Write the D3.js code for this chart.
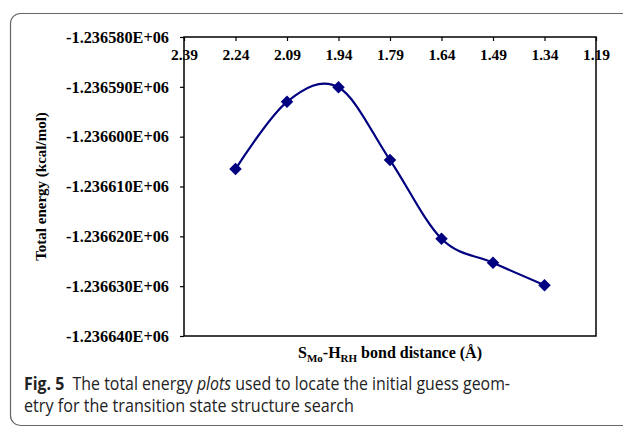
<!DOCTYPE html>
<html>
<head>
<meta charset="utf-8">
<script src="https://cdn.jsdelivr.net/npm/d3@7"></script>
<style>
  body { margin: 0; background: #fff; }
  .tick text { font-family: "Liberation Serif", "Times New Roman", serif; font-weight: bold; }
</style>
</head>
<body>
<div class="chart"></div>
<script>
// data
var bondDist = [2.24, 2.09, 1.94, 1.79, 1.64, 1.49, 1.34];
var energy = [-1236606.5, -1236593.0, -1236590.1, -1236604.7, -1236620.5, -1236625.3, -1236629.8];
var xTicks = [2.39, 2.24, 2.09, 1.94, 1.79, 1.64, 1.49, 1.34, 1.19];
var yTicks = [-1236580, -1236590, -1236600, -1236610, -1236620, -1236630, -1236640];

var svgWidth = 623;
var svgHeight = 430;

var margin = { top: 37, right: 27, bottom: 94, left: 184 };
var width = svgWidth - margin.left - margin.right;
var height = svgHeight - margin.top - margin.bottom;

var svg = d3.select(".chart")
  .append("svg")
  .attr("width", svgWidth)
  .attr("height", svgHeight);

// figure frame
svg.append("rect")
  .attr("x", 10.5)
  .attr("y", 13.5)
  .attr("width", 640)
  .attr("height", 412)
  .attr("rx", 10)
  .attr("fill", "none")
  .attr("stroke", "#666")
  .attr("stroke-width", 1.2);

var chartGroup = svg.append("g")
  .attr("transform", `translate(${margin.left}, ${margin.top})`);

var x = d3.scaleLinear().domain([2.39, 1.19]).range([0, width]);
var y = d3.scaleLinear().domain([-1236580, -1236640]).range([0, height]);

// plot frame
chartGroup.append("rect")
  .attr("width", width)
  .attr("height", height)
  .attr("fill", "none")
  .attr("stroke", "#000")
  .attr("stroke-width", 1.5);

var topAxis = d3.axisTop(x)
  .tickValues(xTicks)
  .tickSize(-4)
  .tickSizeOuter(0)
  .tickFormat(d3.format(".2f"));

var xAxis = chartGroup.append("g").call(topAxis);
xAxis.select(".domain").remove();
xAxis.selectAll("line").attr("stroke", "#000").attr("stroke-width", 1.2);
xAxis.selectAll("text")
  .attr("y", 23)
  .attr("fill", "#000")
  .style("font-size", "15.5px");

var leftAxis = d3.axisLeft(y)
  .tickValues(yTicks)
  .tickSize(4)
  .tickSizeOuter(0)
  .tickFormat(d => d.toFixed(0).replace(/^-(\d)(\d+)$/, "-$1.$2") + "E+06");

var yAxis = chartGroup.append("g").call(leftAxis);
yAxis.select(".domain").remove();
yAxis.selectAll("line").attr("stroke", "#000").attr("stroke-width", 1.2);
yAxis.selectAll("text")
  .attr("x", -15)
  .attr("fill", "#000")
  .style("font-size", "16.3px");

var line = d3.line()
  .x((d, i) => x(bondDist[i]))
  .y(d => y(d))
  .curve(d3.curveCatmullRom.alpha(0));

chartGroup.append("path")
  .datum(energy)
  .attr("d", line)
  .attr("fill", "none")
  .attr("stroke", "#000080")
  .attr("stroke-width", 2.2);

chartGroup.selectAll(".marker")
  .data(energy)
  .enter()
  .append("path")
  .attr("class", "marker")
  .attr("d", d3.symbol().type(d3.symbolDiamond2).size(100))
  .attr("transform", (d, i) => `translate(${x(bondDist[i])}, ${y(d)})`)
  .attr("fill", "#000080");

// axis titles
chartGroup.append("text")
  .attr("transform", "rotate(-90)")
  .attr("x", -height / 2)
  .attr("y", -138)
  .attr("text-anchor", "middle")
  .style("font-family", "'Liberation Serif', serif")
  .style("font-weight", "bold")
  .style("font-size", "15px")
  .text("Total energy (kcal/mol)");

var xTitle = chartGroup.append("text")
  .attr("x", width / 2)
  .attr("y", height + 22)
  .attr("text-anchor", "middle")
  .style("font-family", "'Liberation Serif', serif")
  .style("font-weight", "bold")
  .style("font-size", "16px");
xTitle.append("tspan").text("S");
xTitle.append("tspan").attr("dy", 4).style("font-size", "11px").text("Mo");
xTitle.append("tspan").attr("dy", -4).text("-H");
xTitle.append("tspan").attr("dy", 4).style("font-size", "11px").text("RH");
xTitle.append("tspan").attr("dy", -4).text(" bond distance (Å)");

// caption
var caption = svg.append("g")
  .style("font-family", "'Open Sans', sans-serif")
  .style("font-size", "17.5px")
  .attr("fill", "#222");

var line1 = caption.append("text")
  .attr("x", 24)
  .attr("y", 390)
  .attr("textLength", 486)
  .attr("lengthAdjust", "spacingAndGlyphs");
line1.append("tspan").style("font-weight", "bold").text("Fig. 5");
line1.append("tspan").text("\u00a0\u00a0The total energy ");
line1.append("tspan").style("font-style", "italic").text("plots");
line1.append("tspan").text(" used to locate the initial guess geom-");

caption.append("text")
  .attr("x", 24)
  .attr("y", 412)
  .attr("textLength", 330)
  .attr("lengthAdjust", "spacingAndGlyphs")
  .text("etry for the transition state structure search");
</script>
</body>
</html>
